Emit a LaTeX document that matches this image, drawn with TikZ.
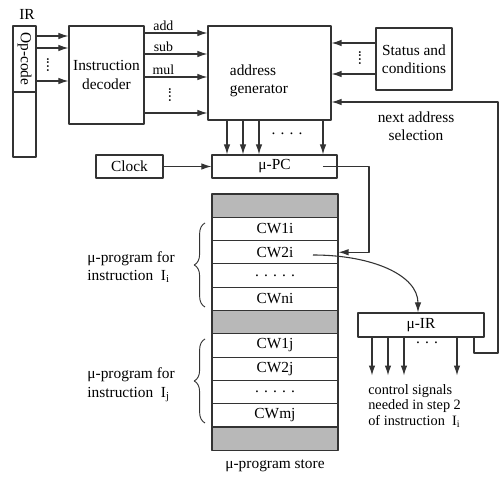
\documentclass[tikz,border=0pt]{standalone}
\usepackage{fontspec}
\setmainfont{Liberation Serif}
\usetikzlibrary{arrows.meta,decorations.pathreplacing}
\newcommand{\pxu}{0.65pt}
\tikzset{
  blk/.style={draw=black!80, line width=0.7pt, inner sep=0pt, align=center},
  arr/.style={draw=black!80, line width=0.7pt, -{Latex[length=6.5pt,width=4.2pt]}},
  wire/.style={draw=black!80, line width=0.7pt},
  cell/.style={blk, minimum width=126*\pxu, minimum height=23.3*\pxu},
  shade/.style={cell, fill=black!28},
  brc/.style={wire, line width=0.6pt, decorate, decoration={brace, amplitude=7pt}},
  sig/.style={font=\small, above, inner sep=1.5pt},
}
\begin{document}
\begin{tikzpicture}[x=0.65pt, y=-0.65pt, line join=round]
  \useasboundingbox (0,0) rectangle (499,479);
  % registers and blocks
  \node (irlbl) at (27,14) {IR};
  \node[blk, minimum width=23*\pxu, minimum height=131*\pxu] (ir) at (24.5,91.5) {};
  \draw[wire] (ir.west |- 0,92) -- (ir.east |- 0,92);
  \node[rotate=-90] (opc) at (24.5,59) {Op-code};
  \node[blk, minimum width=75*\pxu, minimum height=98*\pxu] (dec) at (106.5,75) {Instruction\\decoder};
  \node[blk, minimum width=123*\pxu, minimum height=94*\pxu] (agen) at (269.5,73) {};
  \node[align=left] (agentxt) at (259,81) {address\\generator};
  \node[blk, minimum width=76*\pxu, minimum height=62*\pxu] (stat) at (414,59) {Status and\\conditions};
  \node[blk, minimum width=67*\pxu, minimum height=23*\pxu] (clk) at (129.5,166.5) {Clock};
  \node[blk, minimum width=125*\pxu, minimum height=23*\pxu] (upc) at (274.5,166.5) {μ-PC};
  \node[blk, minimum width=126*\pxu, minimum height=24*\pxu] (uir) at (421,325) {μ-IR};

  % micro-program store
  \foreach \lbl/\sty [count=\k] in {{}/shade, CW1i/cell, CW2i/cell, {. . . . .}/cell, CWni/cell, {}/shade,
      CW1j/cell, CW2j/cell, {. . . . .}/cell, CWmj/cell, {}/shade}
    \node[\sty] (r\k) at (275,{194+(\k-0.5)*23.3}) {\lbl};
  \node (storelbl) at (275,466) {μ-program store};

  % op-code to decoder
  \foreach \yy in {36,48,81}
    \draw[arr] (ir.east |- 0,\yy) -- (dec.west |- 0,\yy);
  \node[rotate=90, inner sep=0pt] (irdots) at (48,65) {....};

  % decoder to address generator
  \draw[arr] (dec.east |- 0,33) -- node[sig, pos=0.3] {add} (agen.west |- 0,33);
  \draw[arr] (dec.east |- 0,54) -- node[sig, pos=0.3] {sub} (agen.west |- 0,54);
  \draw[arr] (dec.east |- 0,77) -- node[sig, pos=0.3] {mul} (agen.west |- 0,77);
  \draw[arr] (dec.east |- 0,113) -- (agen.west |- 0,113);
  \node[rotate=90, inner sep=0pt] (decdots) at (170,95) {....};

  % status to address generator
  \foreach \yy in {43,74}
    \draw[arr] (stat.west |- 0,\yy) -- (agen.east |- 0,\yy);
  \node[rotate=90, inner sep=0pt] (statdots) at (360,58) {....};

  % address generator to mu-PC
  \foreach \xx in {227,243,259,323}
    \draw[arr] (agen.south -| \xx,0) -- (upc.north -| \xx,0);
  \node[inner sep=0pt] (agendots) at (287,134) {. . . .};
  \draw[arr] (clk) -- (upc);

  % mu-PC addresses the store
  \coordinate (upcout) at (323,166.5);
  \draw[arr] (upcout) -- (369,166.5) |- (r3.east);

  % control word into mu-IR
  \coordinate (cwout) at (313,255);
  \draw[arr] (cwout) .. controls (372,255) and (418,275) .. (uir.north -| 418,0);

  % mu-IR outputs
  \foreach \xx in {372,388,404,457}
    \draw[arr] (uir.south -| \xx,0) -- ++(0,38);
  \node[inner sep=0pt] (uirdots) at (427,343) {. . .};
  \node[anchor=north west, align=left, font=\fontsize{9.3}{10.2}\selectfont, inner sep=0pt] (ctltxt) at (368,384)
    {control signals\\needed in step 2\\of instruction\ \ I\textsubscript{i}};

  % next address selection
  \draw[arr] (uir.south -| 474,0) -- (474,353) -- (498,353) |- (agen.east |- 0,102);
  \node[align=center] (nxtlbl) at (416,126) {next address\\selection};

  % braces
  \draw[brc] (205,307) -- (205,223);
  \draw[brc] (205,423) -- (205,339);
  \node[anchor=west, align=left] (progi) at (82,267) {μ-program for\\instruction\ \ I\textsubscript{i}};
  \node[anchor=west, align=left] (progj) at (82,385) {μ-program for\\instruction\ \ I\textsubscript{j}};
\end{tikzpicture}
\end{document}
